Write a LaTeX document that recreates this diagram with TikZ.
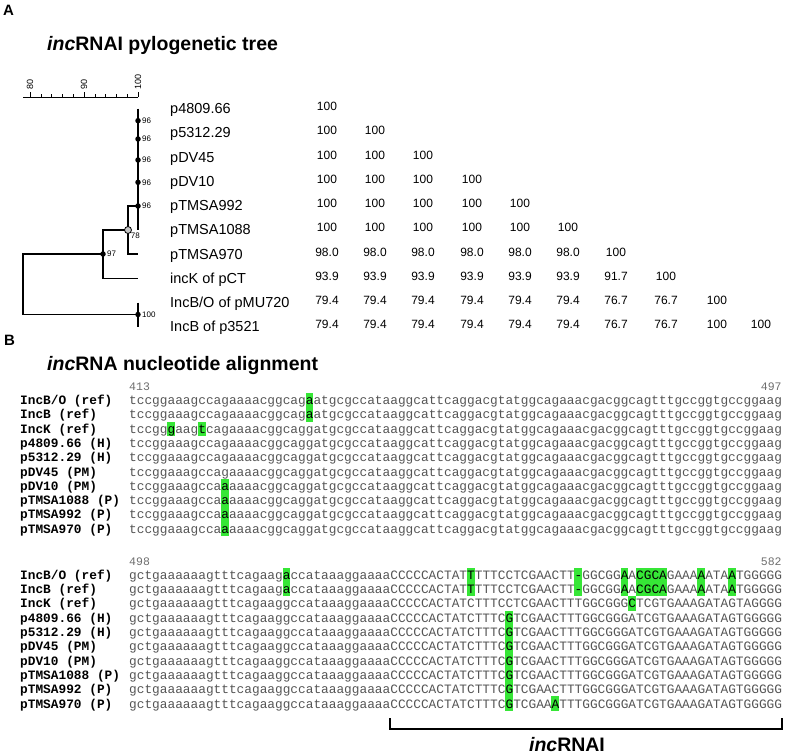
\documentclass[tikz,border=0pt]{standalone}
\usepackage{fontspec}
\setmainfont{Liberation Sans}
\setmonofont{Liberation Mono}
\usepackage{xcolor}
\usepackage{tikz}
\usetikzlibrary{positioning,calc}
\definecolor{HiGreen}{HTML}{36E636}
\definecolor{SeqGray}{HTML}{555555}
\definecolor{PosGray}{HTML}{6E6E6E}
\definecolor{CircGray}{HTML}{C4C4C4}

% alignment grid: first column, cell width, row pitch, block baselines
\newcommand{\colzero}{129}
\newcommand{\cellw}{7.68}
\newcommand{\rowh}{14.3}
\newcommand{\baseone}{404.5}
\newcommand{\basetwo}{579.3}
% changed letter, set darker inside the grey sequence
\newcommand{\hc}[1]{\textcolor{black}{#1}}

% highlighted cells: row/column
\newcommand{\hlone}{1/24,2/24,3/6,3/10,7/13,8/13,9/13,10/13}
\newcommand{\hltwo}{1/21,2/21,1/45,2/45,1/59,2/59,1/65,2/65,
  1/67,2/67,1/68,2/68,1/69,2/69,1/70,2/70,1/75,2/75,1/79,2/79,
  3/66,4/50,5/50,6/50,7/50,8/50,9/50,10/50,10/56}

\begin{document}
\begin{tikzpicture}[x=1pt,y=-1pt,
  panel/.style={font=\fontsize{15}{17}\selectfont\bfseries,anchor=base west,inner sep=0pt},
  title/.style={font=\fontsize{19.5}{22}\selectfont\bfseries,anchor=base west,inner sep=0pt},
  leaf/.style={font=\fontsize{14.5}{17}\selectfont,anchor=base west,inner sep=0pt},
  ident/.style={font=\fontsize{12}{14}\selectfont,anchor=base,inner sep=0pt},
  boot/.style={font=\fontsize{8}{9}\selectfont,inner sep=1pt},
  ticklab/.style={font=\fontsize{9}{10}\selectfont,rotate=90,anchor=west,inner sep=1pt},
  dot/.style={circle,fill=black,inner sep=0pt,minimum size=5.5pt},
  hollow/.style={circle,draw=black,fill=CircGray,line width=0.8pt,inner sep=0pt,minimum size=7pt},
  branch/.style={line width=1.3pt},
  seqname/.style={font=\fontsize{12.8}{14}\selectfont\ttfamily\bfseries,anchor=base west,inner sep=0pt},
  seqtext/.style={font=\fontsize{12.8}{14}\selectfont\ttfamily,text=SeqGray,anchor=base west,inner sep=0pt},
  posnum/.style={font=\fontsize{11.5}{14}\selectfont\ttfamily,text=PosGray,inner sep=0pt},
  bracket/.style={line width=2pt}
]
\useasboundingbox (0,0) rectangle (787,755);

% ---- panel A
\node[panel] (pa) at (3,15) {A};
\node[title] (ta) at (47,50) {\textit{inc}RNAI pylogenetic tree};

% scale
\coordinate (sc0) at (23,97);
\coordinate (sc1) at (138,97);
\draw[line width=0.6pt] (sc0) -- (sc1);
\foreach \v in {80,82,...,100}
  \draw[line width=0.6pt] ({138-(100-\v)*5.4},97) -- ++(0,-3);
\foreach \v in {80,90,100}{
  \draw[line width=0.6pt] ({138-(100-\v)*5.4},97) -- ++(0,-5);
  \node[ticklab] (sc\v) at ({138-(100-\v)*5.4},91) {\v};
}

% leaves and identity matrix
\foreach \name [count=\i] in {p4809.66,p5312.29,pDV45,pDV10,pTMSA992,pTMSA1088,pTMSA970,incK of pCT,{IncB/O of pMU720},IncB of p3521}{
  \node[leaf] (leaf\i) at (170,{113.5+24.25*(\i-1)}) {\name};
  \coordinate (tip\i) at (138,{108.5+24.25*(\i-1)});
}
\foreach \row [count=\r] in {{100},{100,100},{100,100,100},{100,100,100,100},
  {100,100,100,100,100},{100,100,100,100,100,100},
  {98.0,98.0,98.0,98.0,98.0,98.0,100},
  {93.9,93.9,93.9,93.9,93.9,93.9,91.7,100},
  {79.4,79.4,79.4,79.4,79.4,79.4,76.7,76.7,100},
  {79.4,79.4,79.4,79.4,79.4,79.4,76.7,76.7,100,100}}
  \foreach \v [count=\c] in \row {
    \pgfmathsetmacro{\cx}{{327,375,423,472,520,568,616,666,717,761}[\c-1]}
    \node[ident] (m-\r-\c) at (\cx,{110.5+24.25*(\r-1)}) {\v};
  }

% tree
\foreach \y [count=\k] in {120.7,139,160,182.3,206}
  \coordinate (lad\k) at (138,\y);
\coordinate (k992) at (128,206);
\coordinate (k78) at (128,230);
\coordinate (j78) at (103,230);
\coordinate (k97) at (103,254);
\coordinate (root) at (23,254);
\coordinate (k100) at (138,314.5);
\draw[branch] (tip1) -- (tip6);
\draw[branch] (lad5) -- (k992) |- (tip7);
\draw[branch] (k78) -- (j78) |- (tip8);
\draw[branch] (k97) -- (root) |- (k100);
\draw[branch] (tip9) -- (tip10);
\foreach \k in {1,...,5}{
  \node[dot] (d\k) at (lad\k) {};
  \node[boot,right=0pt of d\k] {96};
}
\node[hollow] (n78) at (k78) {};
\node[boot,below right=-1pt and -1pt of n78] {78};
\node[dot] (n97) at (k97) {};
\node[boot,right=0pt of n97] {97};
\node[dot] (n100) at (k100) {};
\node[boot,right=0pt of n100] {100};

% ---- panel B
\node[panel] (pb) at (4,345) {B};
\node[title] (tb) at (47,370) {\textit{inc}RNA nucleotide alignment};

\node[posnum,anchor=base west] (p413) at (\colzero,390) {413};
\node[posnum,anchor=base east] (p497) at ({\colzero+85*\cellw},390) {497};
\node[posnum,anchor=base west] (p498) at (\colzero,565) {498};
\node[posnum,anchor=base east] (p582) at ({\colzero+85*\cellw},565) {582};

% green cells behind the letters
\foreach \r/\c in \hlone
  \fill[HiGreen] ({\colzero+(\c-1)*\cellw},{\baseone+(\r-1)*\rowh-11.6}) rectangle ++(\cellw,\rowh);
\foreach \r/\c in \hltwo
  \fill[HiGreen] ({\colzero+(\c-1)*\cellw},{\basetwo+(\r-1)*\rowh-11.6}) rectangle ++(\cellw,\rowh);

\foreach \name [count=\r] in {{IncB/O (ref)},IncB (ref),IncK (ref),p4809.66 (H),p5312.29 (H),pDV45 (PM),pDV10 (PM),pTMSA1088 (P),pTMSA992 (P),pTMSA970 (P)}{
  \node[seqname] (na\r) at (20,{\baseone+(\r-1)*\rowh}) {\name};
  \node[seqname] (nb\r) at (20,{\basetwo+(\r-1)*\rowh}) {\name};
}
\foreach \s [count=\r] in {
  tccggaaagccagaaaacggcag\hc{a}atgcgccataaggcattcaggacgtatggcagaaacgacggcagtttgccggtgccggaag,
  tccggaaagccagaaaacggcag\hc{a}atgcgccataaggcattcaggacgtatggcagaaacgacggcagtttgccggtgccggaag,
  tccgg\hc{g}aag\hc{t}cagaaaacggcaggatgcgccataaggcattcaggacgtatggcagaaacgacggcagtttgccggtgccggaag,
  tccggaaagccagaaaacggcaggatgcgccataaggcattcaggacgtatggcagaaacgacggcagtttgccggtgccggaag,
  tccggaaagccagaaaacggcaggatgcgccataaggcattcaggacgtatggcagaaacgacggcagtttgccggtgccggaag,
  tccggaaagccagaaaacggcaggatgcgccataaggcattcaggacgtatggcagaaacgacggcagtttgccggtgccggaag,
  tccggaaagcca\hc{a}aaaacggcaggatgcgccataaggcattcaggacgtatggcagaaacgacggcagtttgccggtgccggaag,
  tccggaaagcca\hc{a}aaaacggcaggatgcgccataaggcattcaggacgtatggcagaaacgacggcagtttgccggtgccggaag,
  tccggaaagcca\hc{a}aaaacggcaggatgcgccataaggcattcaggacgtatggcagaaacgacggcagtttgccggtgccggaag,
  tccggaaagcca\hc{a}aaaacggcaggatgcgccataaggcattcaggacgtatggcagaaacgacggcagtttgccggtgccggaag}
  \node[seqtext] (sa\r) at (\colzero,{\baseone+(\r-1)*\rowh}) {\s};
\foreach \s [count=\r] in {
  gctgaaaaaagtttcagaag\hc{a}ccataaaggaaaaCCCCCACTAT\hc{T}TTTCCTCGAACTT\hc{-}GGCGG\hc{A}A\hc{CGCA}GAAA\hc{A}ATA\hc{A}TGGGGG,
  gctgaaaaaagtttcagaag\hc{a}ccataaaggaaaaCCCCCACTAT\hc{T}TTTCCTCGAACTT\hc{-}GGCGG\hc{A}A\hc{CGCA}GAAA\hc{A}ATA\hc{A}TGGGGG,
  gctgaaaaaagtttcagaaggccataaaggaaaaCCCCCACTATCTTTCCTCGAACTTTGGCGGG\hc{C}TCGTGAAAGATAGTAGGGG,
  gctgaaaaaagtttcagaaggccataaaggaaaaCCCCCACTATCTTTC\hc{G}TCGAACTTTGGCGGGATCGTGAAAGATAGTGGGGG,
  gctgaaaaaagtttcagaaggccataaaggaaaaCCCCCACTATCTTTC\hc{G}TCGAACTTTGGCGGGATCGTGAAAGATAGTGGGGG,
  gctgaaaaaagtttcagaaggccataaaggaaaaCCCCCACTATCTTTC\hc{G}TCGAACTTTGGCGGGATCGTGAAAGATAGTGGGGG,
  gctgaaaaaagtttcagaaggccataaaggaaaaCCCCCACTATCTTTC\hc{G}TCGAACTTTGGCGGGATCGTGAAAGATAGTGGGGG,
  gctgaaaaaagtttcagaaggccataaaggaaaaCCCCCACTATCTTTC\hc{G}TCGAACTTTGGCGGGATCGTGAAAGATAGTGGGGG,
  gctgaaaaaagtttcagaaggccataaaggaaaaCCCCCACTATCTTTC\hc{G}TCGAACTTTGGCGGGATCGTGAAAGATAGTGGGGG,
  gctgaaaaaagtttcagaaggccataaaggaaaaCCCCCACTATCTTTC\hc{G}TCGAA\hc{A}TTTGGCGGGATCGTGAAAGATAGTGGGGG}
  \node[seqtext] (sb\r) at (\colzero,{\basetwo+(\r-1)*\rowh}) {\s};

% incRNAI region
\coordinate (brL) at ({\colzero+34*\cellw},718);
\coordinate (brR) at ({\colzero+85*\cellw},718);
\coordinate (brB) at ({\colzero+85*\cellw},729);
\draw[bracket] (brL) |- (brB) -- (brR);
\node[title,anchor=base] (tc) at (567,751) {\textit{inc}RNAI};
\end{tikzpicture}
\end{document}
